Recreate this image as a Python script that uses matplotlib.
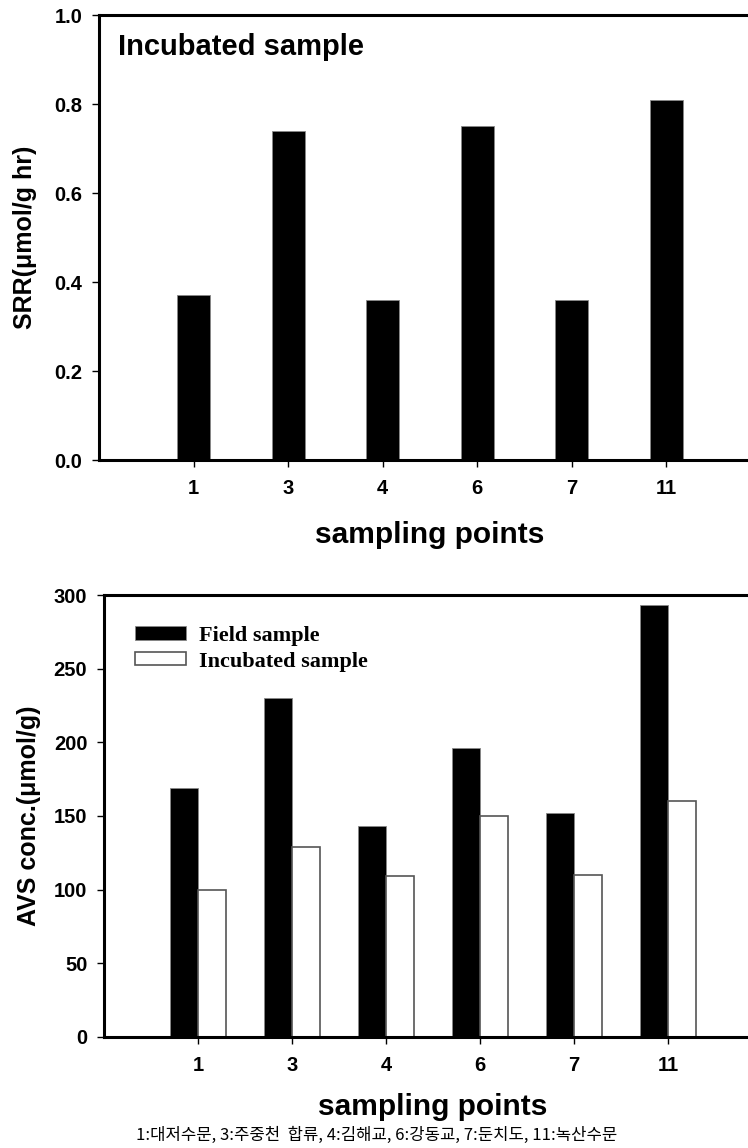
import matplotlib
matplotlib.use("Agg")
import matplotlib.pyplot as plt
import numpy as np

# sampling points and values
sites = ["1", "3", "4", "6", "7", "11"]
srr_incubated = [0.37, 0.74, 0.36, 0.75, 0.36, 0.81]
avs_field = [169, 230, 143, 196, 152, 293]
avs_incubated = [100, 129, 109, 150, 110, 160]
caption = "1:대저수문, 3:주중천  합류, 4:김해교, 6:강동교, 7:둔치도, 11:녹산수문"

plt.rcParams["font.family"] = ["Liberation Sans", "DejaVu Sans"]
plt.rcParams["font.weight"] = "bold"

fig = plt.figure(figsize=(7.48, 11.48), dpi=100)
x = np.arange(len(sites))


def style_axes(ax):
    for side in ["left", "bottom", "top"]:
        ax.spines[side].set_linewidth(2.2)
    ax.spines["right"].set_visible(False)
    ax.tick_params(axis="both", direction="out", length=5, width=1,
                   labelsize=14.5)
    ax.tick_params(axis="x", pad=9)
    ax.tick_params(axis="y", pad=7)
    ax.set_xticks(x)
    ax.set_xticklabels(sites, fontweight="bold")
    ax.set_xlim(-1, 6)
    for lab in ax.get_yticklabels():
        lab.set_fontweight("bold")


# --- top panel: SRR of incubated sample ---
ax1 = fig.add_axes([0.1324, 0.5993, 0.8844, 0.3876])
ax1.bar(x, srr_incubated, width=0.35, color="black", edgecolor="#888888",
        linewidth=0.6)
ax1.set_ylim(0, 1.0)
ax1.set_yticks([0.0, 0.2, 0.4, 0.6, 0.8, 1.0])
ax1.set_yticklabels(["0.0", "0.2", "0.4", "0.6", "0.8", "1.0"])
style_axes(ax1)
ax1.set_xlabel("sampling points", fontsize=21.5, fontweight="bold", labelpad=16)
ax1.set_ylabel("SRR(μmol/g hr)", fontsize=18, fontweight="bold", labelpad=12.5)
ax1.text(0.029, 0.928, "Incubated sample", transform=ax1.transAxes,
         fontsize=21, fontweight="bold", va="center", ha="left")

# --- bottom panel: AVS concentration ---
ax2 = fig.add_axes([0.139, 0.0967, 0.8797, 0.385])
w = 0.3
ax2.bar(x - w / 2, avs_field, width=w, color="black", edgecolor="#888888",
        linewidth=0.6, label="Field sample")
ax2.bar(x + w / 2, avs_incubated, width=w, color="white", edgecolor="#555555",
        linewidth=1.2, label="Incubated sample")
ax2.set_ylim(0, 300)
ax2.set_yticks(np.arange(0, 301, 50))
style_axes(ax2)
ax2.set_xlabel("sampling points", fontsize=21.5, fontweight="bold", labelpad=13)
ax2.set_ylabel("AVS conc.(μmol/g)", fontsize=18, fontweight="bold", labelpad=9)
ax2.legend(loc="upper left", bbox_to_anchor=(0.047, 0.93), frameon=False,
           prop={"family": "Liberation Serif", "weight": "bold", "size": 16},
           handlelength=2.3, handleheight=0.55, handletextpad=0.6,
           labelspacing=0.25, borderpad=0, borderaxespad=0)

fig.text(0.503, 0.011, caption, ha="center", va="center", fontsize=12,
         fontweight="normal", family=["Noto Sans CJK KR", "DejaVu Sans"])

fig.savefig("out.png", dpi=100)
